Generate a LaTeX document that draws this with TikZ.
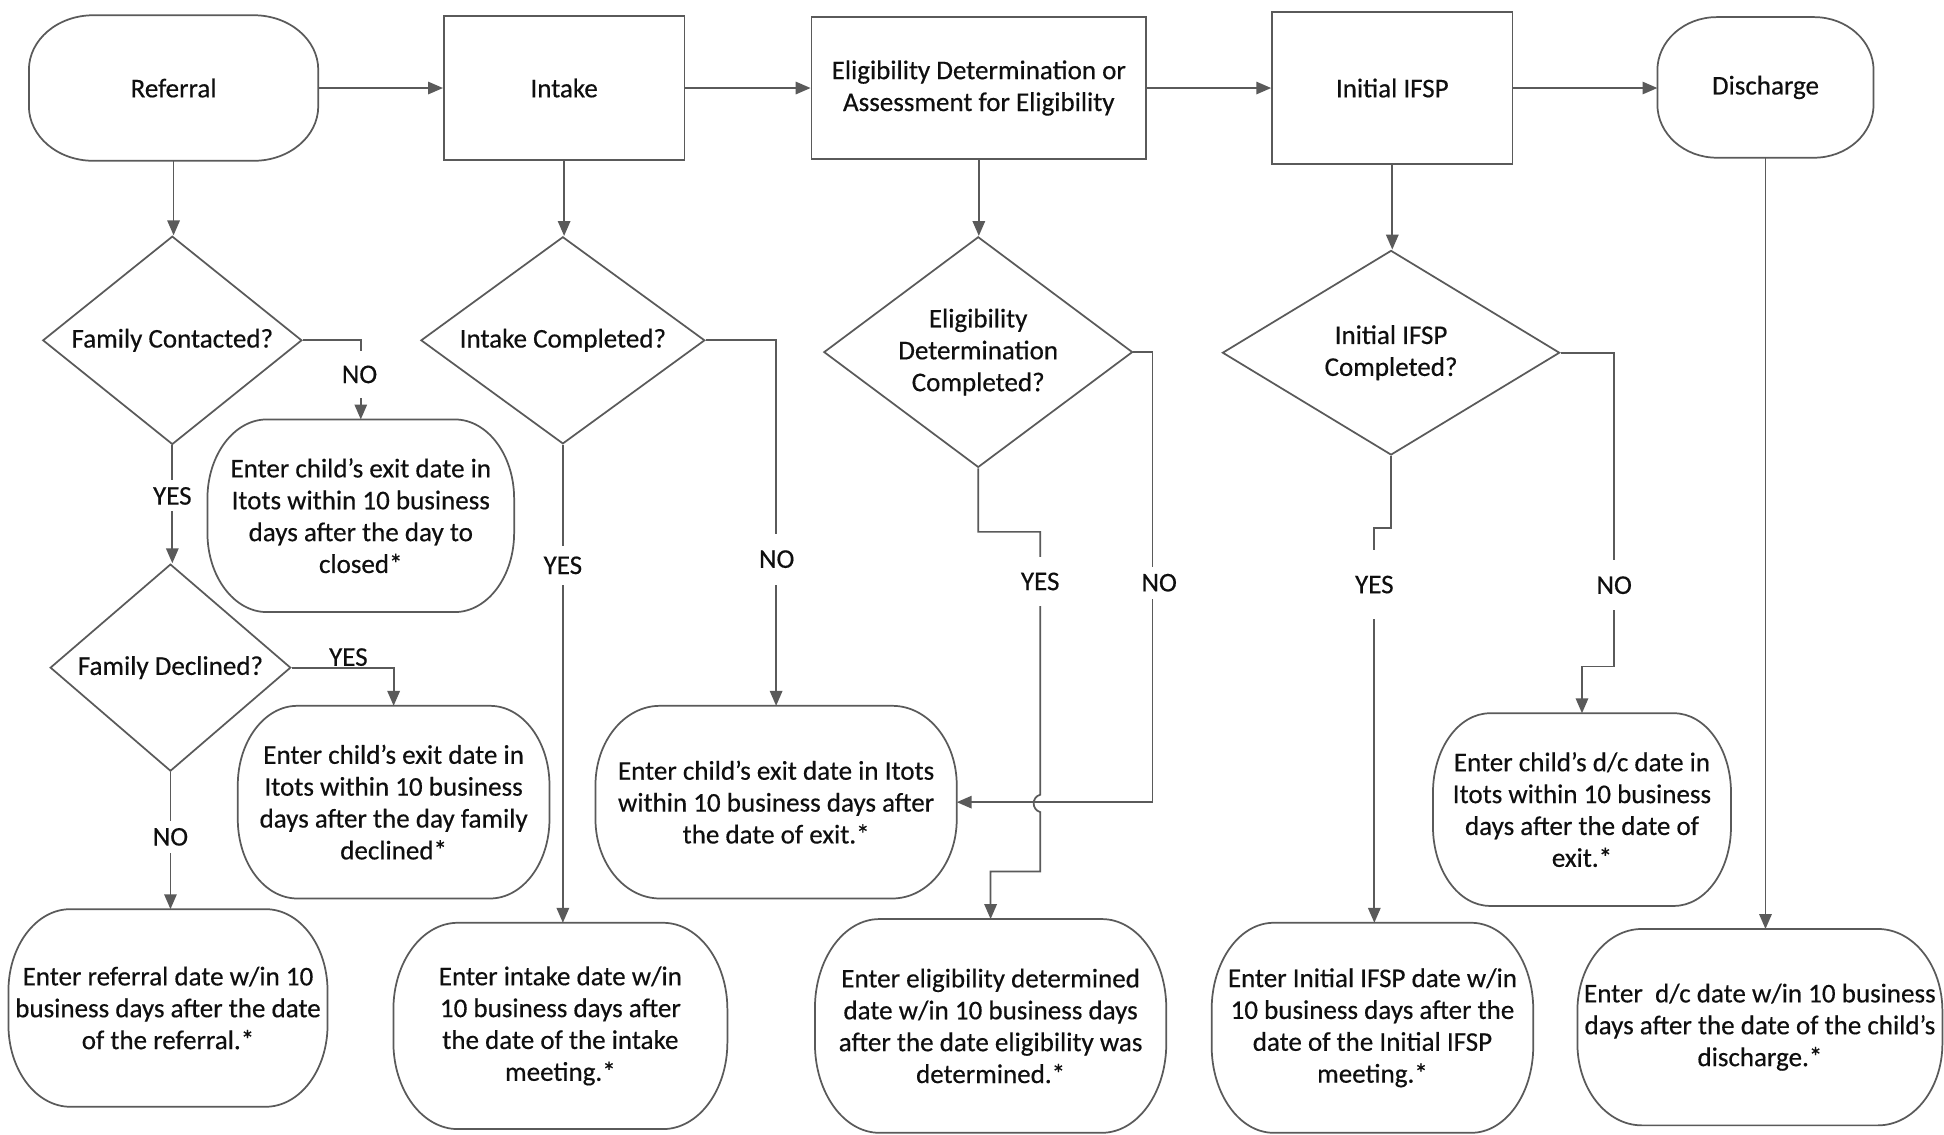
\documentclass[tikz,border=0pt]{standalone}
\usepackage{fontspec}
\setmainfont{Carlito}[FakeBold=0.4]
\usetikzlibrary{shapes.geometric,arrows.meta}
\definecolor{lc}{RGB}{90,90,90}
\definecolor{tc}{RGB}{15,15,15}
\newcommand\ovbox[3]{\draw[lc, line width=1.4pt] ([xshift=#2]#1.north west) -- ([xshift=-#2]#1.north east) arc[start angle=90, end angle=0, x radius=#2, y radius=#3] -- ([yshift=#3]#1.south east) arc[start angle=0, end angle=-90, x radius=#2, y radius=#3] -- ([xshift=#2]#1.south west) arc[start angle=270, end angle=180, x radius=#2, y radius=#3] -- ([yshift=-#3]#1.north west) arc[start angle=180, end angle=90, x radius=#2, y radius=#3] -- cycle;}
\begin{document}
\begin{tikzpicture}[x=1pt,y=-1pt,
  every node/.style={font=\fontsize{21.8}{25.7}\selectfont, text=tc, align=center, inner sep=0pt},
  sq/.style={draw=lc, line width=1.4pt, rectangle},
  res/.style={line width=1.4pt, rectangle},
  dec/.style={draw=lc, line width=1.4pt, diamond},
  arr/.style={draw=lc, line width=1.4pt, -{Triangle[length=12pt,width=10pt]}},
  lbl/.style={fill=white, inner xsep=3pt, inner ysep=0pt, minimum height=#1},
  lbl/.default=30pt,
  lbla/.style={inner sep=0pt}]
\fill[white] (0,0) rectangle (1568,915);
\useasboundingbox (0,0) rectangle (1568,915);

% top row
\node[res, minimum width=232, minimum height=116] (ref) at (140,71) {Referral};
\node[sq, minimum width=194, minimum height=116] (intake) at (455,71) {Intake};
\node[sq, minimum width=270, minimum height=114] (elig) at (789.5,71) {Eligibility Determination or\\Assessment for Eligibility};
\node[sq, minimum width=194, minimum height=123] (ifsp) at (1123,71) {Initial IFSP};
\node[res, minimum width=173, minimum height=112] (dis) at (1424,70.5) {Discharge};
\ovbox{ref}{52pt}{44pt}
\ovbox{dis}{48pt}{43pt}

% decisions
\node[dec, aspect=1.24, minimum width=209, minimum height=168] (dfc) at (139,274.5) {Family Contacted?};
\node[dec, aspect=1.37, minimum width=229, minimum height=167] (dic) at (454,274.5) {Intake Completed?};
\node[dec, aspect=1.34, minimum width=249, minimum height=186] (de) at (789,284) {Eligibility\\Determination\\Completed?};
\node[dec, aspect=1.65, minimum width=272, minimum height=165] (difsp) at (1122,284.5) {Initial IFSP\\Completed?};
\node[dec, aspect=1.16, minimum width=194, minimum height=167] (dfd) at (137.5,538.5) {Family Declined?};

% results
\node[res, minimum width=246, minimum height=154] (bclosed) at (291,416) {Enter child’s exit date in\\Itots within 10 business\\days after the day to\\closed*};
\node[res, minimum width=250, minimum height=154] (bdecl) at (317.5,647) {Enter child’s exit date in\\Itots within 10 business\\days after the day family\\declined*};
\node[res, minimum width=256, minimum height=158] (bref) at (135.5,813) {Enter referral date w/in 10\\business days after the date\\of the referral.*};
\node[res, minimum width=268, minimum height=165] (bint) at (452,827.5) {Enter intake date w/in\\10 business days after\\the date of the intake\\meeting.*};
\node[res, minimum width=290, minimum height=154] (bexit) at (626,647) {Enter child’s exit date in Itots\\within 10 business days after\\the date of exit.*};
\node[res, minimum width=282, minimum height=171] (belig) at (799,827.5) {Enter eligibility determined\\date w/in 10 business days\\after the date eligibility was\\determined.*};
\node[res, minimum width=258, minimum height=168] (bifsp) at (1107,829) {Enter Initial IFSP date w/in\\10 business days after the\\date of the Initial IFSP\\meeting.*};
\node[res, minimum width=239, minimum height=154] (bdc) at (1276,653) {Enter child’s d/c date in\\Itots within 10 business\\days after the date of\\exit.*};
\node[res, minimum width=293, minimum height=157] (bdis) at (1419.5,828.5) {Enter\ \ d/c date w/in 10 business\\days after the date of the child’s\\discharge.*};
\ovbox{bclosed}{48pt}{64pt}
\ovbox{bdecl}{48pt}{64pt}
\ovbox{bref}{50pt}{66pt}
\ovbox{bint}{52pt}{70pt}
\ovbox{bexit}{52pt}{64pt}
\ovbox{belig}{52pt}{72pt}
\ovbox{bifsp}{50pt}{70pt}
\ovbox{bdc}{46pt}{64pt}
\ovbox{bdis}{52pt}{66pt}

% top arrows
\draw[arr] (ref.east) -- (intake.west);
\draw[arr] (intake.east) -- (elig.west);
\draw[arr] (elig.east) -- (elig.east -| ifsp.west);
\draw[arr] (ifsp.east) -- (ifsp.east -| dis.west);

% down arrows
\draw[arr] (ref.south) -- (ref.south |- dfc.north);
\draw[arr] (intake.south) -- (intake.south |- dic.north);
\draw[arr] (elig.south) -- (elig.south |- de.north);
\draw[arr] (ifsp.south) -- (ifsp.south |- difsp.north);
\draw[arr] (dis.south) -- (dis.south |- bdis.north);

% column 1
\draw[arr] (dfc.east) -| (bclosed.north);
\draw[arr] (dfc.south) -- (dfc.south |- dfd.north);
\draw[arr] (dfd.east) -| (bdecl.north);
\draw[arr] (dfd.south) -- (dfd.south |- bref.north);

% column 2
\draw[arr] (dic.south) -- (dic.south |- bint.north);
\draw[arr] (dic.east) -| (bexit.north);

% column 3
\coordinate (eno) at (929.5,647);
\draw[arr] (de.east) -| (eno) -- (bexit.east);
\coordinate (eyes) at (839,429);
\draw[arr] (de.south) |- (eyes) -- (839,641) .. controls (832,643) and (832,653) .. (839,655) -- (839,703) -- (799,703) -- (belig.north);

% column 4
\coordinate (iyes) at (1108.5,426);
\draw[arr] (difsp.south) |- (iyes) -- (iyes |- bifsp.north);
\coordinate (ino) at (1302,537.5);
\draw[arr] (difsp.east) -| (ino) -| (bdc.north);

% labels
\node[lbl=38pt] (l1) at (290,302) {NO};
\node[lbl=25pt] (l2) at (139,400) {YES};
\node[lbla] (l3) at (281,530) {YES};
\node[lbl=26pt] (l4) at (137.5,675) {NO};
\node[lbl=31pt] (l5) at (454,456) {YES};
\node[lbl=41pt] (l6) at (626.5,451) {NO};
\node[lbl=40pt] (l7) at (839,469) {YES};
\node[lbl=26pt] (l8) at (935,470) {NO};
\node[lbl=55pt] (l9) at (1108.5,471.5) {YES};
\node[lbl=40pt] (l10) at (1302,472) {NO};
\end{tikzpicture}
\end{document}
